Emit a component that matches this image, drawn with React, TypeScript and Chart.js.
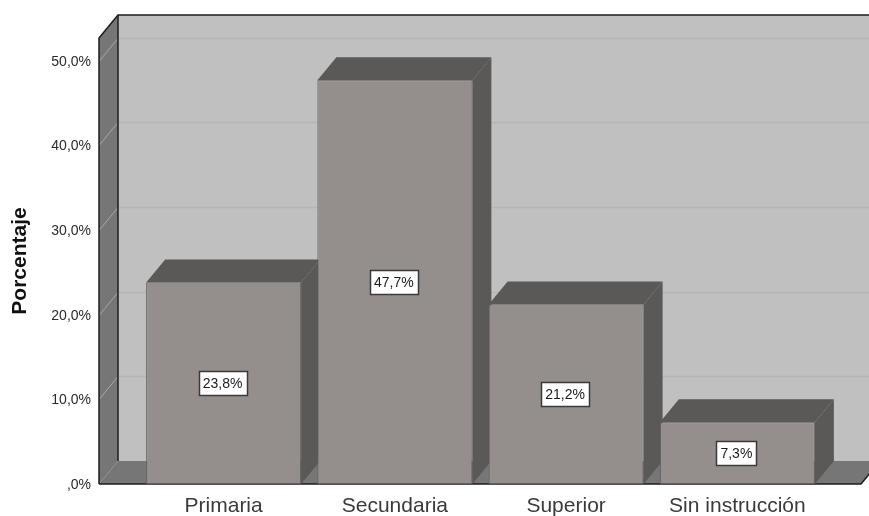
import React, { useEffect, useRef } from "react";
import { Chart, registerables } from "chart.js";

Chart.register(...registerables);

const categories = ["Primaria", "Secundaria", "Superior", "Sin instrucción"];
const percentages = [23.8, 47.7, 21.2, 7.3];
const percentageLabels = ["23,8%", "47,7%", "21,2%", "7,3%"];
const axisTitle = "Porcentaje";
const axisMax = 52.7;

const DEPTH_X = 19;
const DEPTH_Y = 23;
const WALL_INSET_LEFT = 39;
const WALL_INSET_RIGHT = 38;

function polygon(ctx: CanvasRenderingContext2D, pts: number[][], fill: string) {
  ctx.beginPath();
  pts.forEach(([x, y], i) => (i ? ctx.lineTo(x, y) : ctx.moveTo(x, y)));
  ctx.closePath();
  ctx.fillStyle = fill;
  ctx.fill();
}

function line(ctx: CanvasRenderingContext2D, pts: number[][], stroke: string, w = 1) {
  ctx.beginPath();
  pts.forEach(([x, y], i) => (i ? ctx.lineTo(x, y) : ctx.moveTo(x, y)));
  ctx.strokeStyle = stroke;
  ctx.lineWidth = w;
  ctx.stroke();
}

// Box walls, gridlines and the side and top faces of each bar
const depthPlugin = {
  id: "depth",
  beforeDatasetsDraw(chart: any) {
    const { ctx, chartArea: a, scales } = chart;
    const left = a.left - WALL_INSET_LEFT;
    const right = a.right + WALL_INSET_RIGHT;
    const top = a.top;
    const bottom = a.bottom;
    const dx = DEPTH_X;
    const dy = DEPTH_Y;
    ctx.save();
    polygon(ctx, [[left + dx, top - dy], [right + dx, top - dy], [right + dx, bottom - dy], [left + dx, bottom - dy]], "#c0c0c0");
    polygon(ctx, [[left, top], [left + dx, top - dy], [left + dx, bottom - dy], [left, bottom]], "#767676");
    polygon(ctx, [[left, bottom], [left + dx, bottom - dy], [right + dx, bottom - dy], [right, bottom]], "#767676");

    scales.y.ticks.forEach((t: any) => {
      if (t.value === 0) return;
      const y = Math.round(scales.y.getPixelForValue(t.value)) + 0.5;
      line(ctx, [[left, y], [left + dx, y - dy]], "#a8a8a8");
      line(ctx, [[left + dx, y - dy], [right + dx, y - dy]], "#b5b5b5", 1.5);
    });

    line(ctx, [[left, bottom], [left, top], [left + dx, top - dy], [right + dx, top - dy]], "#1c1c1c", 1.5);
    line(ctx, [[left + dx, top - dy], [left + dx, bottom - dy]], "#1c1c1c", 1.5);
    line(ctx, [[left, bottom], [right, bottom], [right + dx, bottom - dy]], "#1c1c1c", 1.5);

    chart.getDatasetMeta(0).data.forEach((bar: any) => {
      const half = bar.width / 2;
      const l = bar.x - half;
      const r = bar.x + half;
      polygon(ctx, [[r, bar.y], [r + dx, bar.y - dy], [r + dx, bottom - dy], [r, bottom]], "#5b5957");
      polygon(ctx, [[l, bar.y], [l + dx, bar.y - dy], [r + dx, bar.y - dy], [r, bar.y]], "#5b5957");
    });
    ctx.restore();
  },
  afterDatasetsDraw(chart: any) {
    const { ctx } = chart;
    ctx.save();
    ctx.font = "14px 'Liberation Sans'";
    ctx.textAlign = "center";
    ctx.textBaseline = "middle";
    chart.getDatasetMeta(0).data.forEach((bar: any, i: number) => {
      const text = percentageLabels[i];
      const w = Math.round(ctx.measureText(text).width) + 8;
      const h = 24;
      const cy = Math.round((bar.y + bar.base) / 2);
      const x = Math.round(bar.x - w / 2) - 0.5;
      const y = cy - Math.floor(h / 2) + 0.5;
      ctx.fillStyle = "#ffffff";
      ctx.fillRect(x, y, w, h);
      ctx.strokeStyle = "#3a3a3a";
      ctx.lineWidth = 1.5;
      ctx.strokeRect(x, y, w, h);
      ctx.fillStyle = "#1a1a1a";
      ctx.fillText(text, bar.x - 1, cy + 1);
    });
    ctx.restore();
  },
};

export default function App() {
  const ref = useRef<HTMLCanvasElement>(null);
  useEffect(() => {
    const chart = new Chart(ref.current!, {
      type: "bar",
      data: {
        labels: categories,
        datasets: [
          {
            data: percentages,
            backgroundColor: "#948f8d",
            borderColor: "#625f5d",
            borderWidth: 1,
            borderSkipped: false,
            barPercentage: 0.905,
            categoryPercentage: 1,
          },
        ],
      },
      options: {
        responsive: false,
        animation: false,
        layout: { padding: { top: 38, right: 46, left: 0, bottom: 0 } },
        plugins: { legend: { display: false }, tooltip: { enabled: false } },
        scales: {
          x: {
            grid: { display: false, drawTicks: false },
            border: { display: false },
            afterFit: (s: any) => { s.height = 32; },
            ticks: {
              padding: 10,
              maxRotation: 0,
              color: "#3a3a3a",
              font: { family: "'Liberation Sans'", size: 21 },
            },
          },
          y: {
            min: 0,
            max: axisMax,
            grid: { display: false, drawTicks: false },
            border: { display: false },
            afterFit: (s: any) => {
              s.width = 138;
              s.paddingTop = 0;
              s.paddingBottom = 0;
            },
            title: {
              display: true,
              text: axisTitle,
              color: "#111111",
              font: { family: "'Liberation Sans'", size: 21, weight: "bold" },
              padding: 8,
            },
            ticks: {
              stepSize: 10,
              includeBounds: false,
              padding: 47,
              labelOffset: 1,
              color: "#2a2a2a",
              font: { family: "'Liberation Sans'", size: 14 },
              callback: (v: any) => (v === 0 ? ",0%" : `${Number(v).toFixed(1).replace(".", ",")}%`),
            },
          },
        },
      },
      plugins: [depthPlugin],
    } as any);
    return () => chart.destroy();
  }, []);
  return (
    <canvas
      ref={ref}
      width={869}
      height={516}
      style={{ position: "absolute", left: 0, top: 0, display: "block" }}
    />
  );
}
